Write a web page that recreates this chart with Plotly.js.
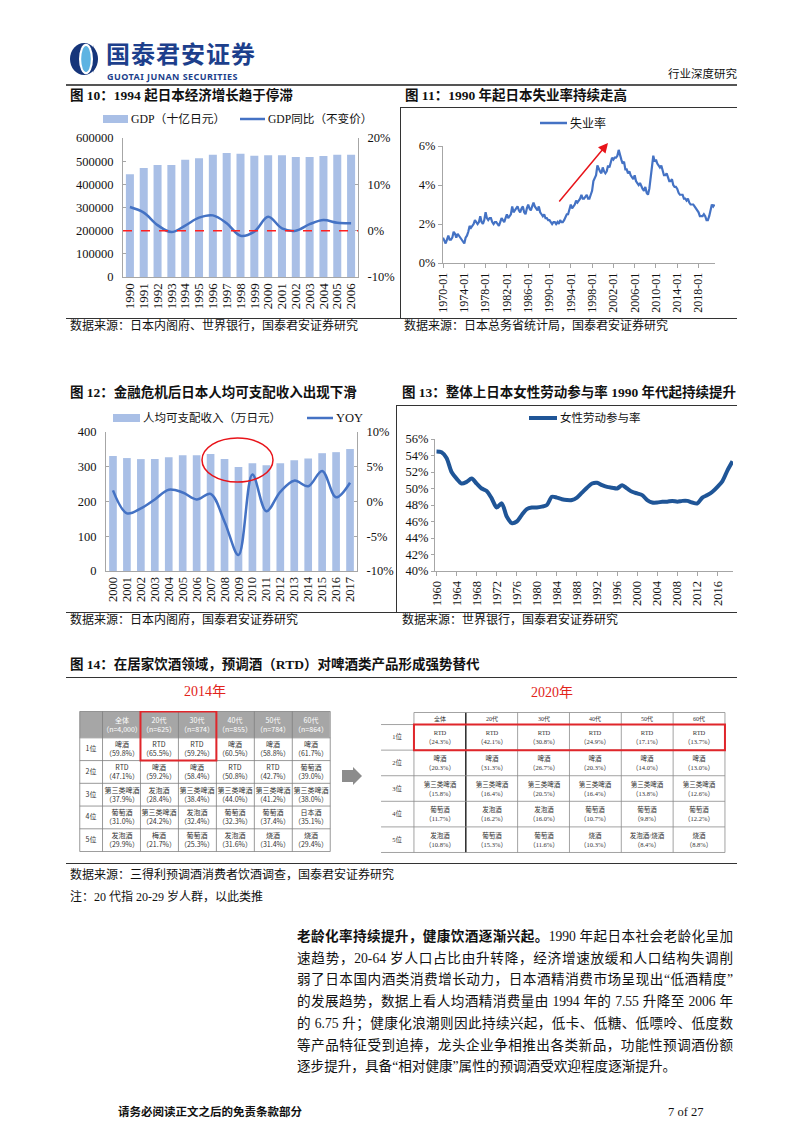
<!DOCTYPE html>
<html><head><meta charset="utf-8">
<script src="https://cdn.plot.ly/plotly-3.0.1.min.js"></script>
<style>
body{margin:0;background:#fff;}
#page{position:relative;width:802px;height:1133px;overflow:hidden;background:#fff;font-family:"Liberation Serif","Noto Sans CJK SC",serif;color:#111;}
.abs{position:absolute;white-space:nowrap;}
.hl{position:absolute;height:1px;background:#333;}
.vl{position:absolute;width:1px;background:#333;}
.ttl{position:absolute;font-weight:bold;font-size:13.5px;line-height:16px;white-space:nowrap;}
.src{position:absolute;font-size:12px;line-height:14px;white-space:nowrap;}
.body{position:absolute;left:297px;width:436px;font-size:13.6px;line-height:18px;text-align:justify;text-align-last:justify;white-space:nowrap;}
.chart{position:absolute;}
</style></head>
<body>
<div id="page">
  <!-- header -->
  <svg class="abs" style="left:69px;top:42px" width="30" height="34" viewBox="0 0 30 34">
    <ellipse cx="15" cy="17" rx="14" ry="16" fill="#16357a"/>
    <ellipse cx="17" cy="17" rx="7" ry="15.2" fill="#ffffff"/>
    <ellipse cx="17" cy="17" rx="4.8" ry="13" fill="#5db3e2"/>
    <path d="M24,3 Q31,17 24,31 Q27,17 24,3Z" fill="#16357a"/>
  </svg>
  <div class="abs" style="left:106px;top:41px;font-family:'Noto Sans CJK SC';font-weight:bold;font-size:24px;line-height:24px;letter-spacing:1px;color:#1d3f8c;">国泰君安证券</div>
  <div class="abs" style="left:107px;top:71.6px;font-family:'Noto Sans','Liberation Sans';font-weight:bold;font-size:9px;line-height:10px;color:#1d3f8c;letter-spacing:0.45px;">GUOTAI JUNAN SECURITIES</div>
  <div class="abs" style="left:668px;top:66px;font-size:11.5px;line-height:15px;font-family:'Noto Sans CJK SC';">行业深度研究</div>
  <div class="hl" style="left:66px;top:84px;width:671px;height:2px;background:#555;"></div>

  <!-- row 1 -->
  <div class="ttl" style="left:70px;top:88px;">图 10：1994 起日本经济增长趋于停滞</div>
  <div class="ttl" style="left:405px;top:88px;">图 11：1990 年起日本失业率持续走高</div>
  <div class="hl" style="left:400px;top:107px;width:337px;"></div>
  <div class="vl" style="left:400px;top:107px;height:211px;"></div>
  <div class="hl" style="left:66px;top:318px;width:671px;"></div>
  <div id="c10" class="chart" style="left:66px;top:108px;width:330px;height:210px;"></div>
  <div id="c11" class="chart" style="left:401px;top:108px;width:336px;height:210px;"></div>
  <div class="src" style="left:70px;top:319px;">数据来源：日本内阁府、世界银行，国泰君安证券研究</div>
  <div class="src" style="left:404px;top:319px;">数据来源：日本总务省统计局，国泰君安证券研究</div>

  <!-- row 2 -->
  <div class="ttl" style="left:70px;top:385px;">图 12：金融危机后日本人均可支配收入出现下滑</div>
  <div class="ttl" style="left:402px;top:385px;">图 13：整体上日本女性劳动参与率 1990 年代起持续提升</div>
  <div class="hl" style="left:396px;top:405px;width:341px;"></div>
  <div class="vl" style="left:396px;top:405px;height:207px;"></div>
  <div class="hl" style="left:66px;top:612px;width:671px;"></div>
  <div id="c12" class="chart" style="left:66px;top:406px;width:330px;height:206px;"></div>
  <div id="c13" class="chart" style="left:397px;top:406px;width:340px;height:206px;"></div>
  <div class="src" style="left:70px;top:613px;">数据来源：日本内阁府，国泰君安证券研究</div>
  <div class="src" style="left:402px;top:613px;">数据来源：世界银行，国泰君安证券研究</div>

  <!-- figure 14 -->
  <div class="ttl" style="left:70px;top:657px;">图 14：在居家饮酒领域，预调酒（RTD）对啤酒类产品形成强势替代</div>
  <div class="hl" style="left:66px;top:677px;width:671px;"></div>
  <div class="abs" style="left:184px;top:684px;font-size:14px;line-height:16px;color:#e2231a;">2014年</div>
  <div class="abs" style="left:531px;top:685px;font-size:14px;line-height:16px;color:#e2231a;">2020年</div>
  <div id="t14" class="chart" style="left:78px;top:710px;width:254px;height:143px;"></div>
  <svg class="abs" style="left:341px;top:766px" width="22" height="20" viewBox="0 0 22 20">
    <rect x="1" y="4" width="11" height="12" fill="#8c8c8c"/>
    <path d="M12,1 L21,10 L12,19 Z" fill="#8c8c8c"/>
  </svg>
  <div id="t20" class="chart" style="left:379px;top:711px;width:348px;height:143px;"></div>
  <div class="hl" style="left:66px;top:863px;width:671px;"></div>
  <div class="src" style="left:70px;top:868px;">数据来源：三得利预调酒消费者饮酒调查，国泰君安证券研究</div>
  <div class="src" style="left:70px;top:890px;">注：20 代指 20-29 岁人群，以此类推</div>

  <!-- body text -->
  <div class="body" style="top:928px;"><b>老龄化率持续提升，健康饮酒逐渐兴起。</b>1990 年起日本社会老龄化呈加</div>
  <div class="body" style="top:949.7px;">速趋势，20-64 岁人口占比由升转降，经济增速放缓和人口结构失调削</div>
  <div class="body" style="top:971.4px;">弱了日本国内酒类消费增长动力，日本酒精消费市场呈现出“低酒精度”</div>
  <div class="body" style="top:993px;">的发展趋势，数据上看人均酒精消费量由 1994 年的 7.55 升降至 2006 年</div>
  <div class="body" style="top:1014.8px;">的 6.75 升；健康化浪潮则因此持续兴起，低卡、低糖、低嘌呤、低度数</div>
  <div class="body" style="top:1036.5px;">等产品特征受到追捧，龙头企业争相推出各类新品，功能性预调酒份额</div>
  <div class="body" style="top:1058px;text-align-last:left;">逐步提升，具备“相对健康”属性的预调酒受欢迎程度逐渐提升。</div>

  <!-- footer -->
  <div class="abs" style="left:118px;top:1104px;font-weight:bold;font-size:11.5px;line-height:16px;">请务必阅读正文之后的免责条款部分</div>
  <div class="abs" style="left:668px;top:1104px;font-size:12.5px;line-height:16px;">7 of 27</div>
</div>

<script>
// ---------------- DATA ----------------
// Figure 10
const gdpYears = ['1990','1991','1992','1993','1994','1995','1996','1997','1998','1999','2000','2001','2002','2003','2004','2005','2006'];
const gdpValues = [443000,470000,483000,483000,506000,513000,528000,535000,532000,523000,526000,526000,518000,518000,522000,528000,528000];
const gdpGrowth = [5.1,3.9,1.2,-0.3,1.1,2.8,3.3,1.6,-1.1,-0.2,3.0,0.5,0.0,1.4,2.3,1.7,1.6];
const gdpRightTicks = [-10,0,10,20];
const gdpRightText = ['-10%','0%','10%','20%'];

// Figure 11 (quarterly readings, Q1..Q4 per year, 1970 to 2021 Q1)
const unempStartYear = 1970;
const unempRate = [
 1.3,1.1,1.0,1.2,  1.4,1.2,1.2,1.3,  1.6,1.5,1.3,1.5,  1.4,1.3,1.2,1.1,  1.0,1.3,1.4,1.6,
 1.9,1.8,1.9,2.0,  2.2,2.1,2.0,2.1,  2.4,2.1,2.0,2.2,  2.6,2.3,2.2,2.3,  2.3,2.1,2.0,2.1,
 2.1,2.0,1.9,2.1,  2.3,2.2,2.1,2.3,  2.5,2.3,2.4,2.5,  2.9,2.6,2.7,2.8,  2.9,2.7,2.6,2.8,
 2.9,2.6,2.5,2.8,  3.0,2.8,2.7,2.9,  3.1,2.9,2.8,2.7,  2.9,2.6,2.5,2.4,  2.5,2.3,2.3,2.2,
 2.2,2.1,2.0,2.1,  2.1,2.0,2.1,2.0,  2.2,2.1,2.1,2.2,  2.4,2.5,2.5,2.7,  3.0,2.8,2.9,3.0,
 3.2,3.1,3.2,3.3,  3.5,3.3,3.3,3.4,  3.5,3.3,3.3,3.5,  3.7,4.2,4.4,4.5,  5.0,4.8,4.7,4.6,
 4.9,4.7,4.6,4.7,  5.0,4.9,5.1,5.4,  5.3,5.4,5.4,5.5,  5.8,5.5,5.3,5.1,  5.2,4.8,4.8,4.6,
 4.7,4.5,4.4,4.3,  4.5,4.2,4.1,4.0,  4.1,3.9,3.8,3.7,  3.9,3.6,3.5,3.8,  4.4,5.2,5.5,5.2,
 5.3,5.1,5.0,4.9,  5.0,4.7,4.5,4.5,  4.6,4.4,4.2,4.2,  4.3,4.0,3.9,3.9,  3.8,3.6,3.5,3.5,
 3.5,3.3,3.3,3.2,  3.3,3.1,3.0,3.0,  3.0,2.9,2.8,2.7,  2.6,2.4,2.4,2.4,  2.5,2.4,2.2,2.2,
 2.4,2.8,3.0,2.9,  3.0
];

// Figure 12
const incomeYears = ['2000','2001','2002','2003','2004','2005','2006','2007','2008','2009','2010','2011','2012','2013','2014','2015','2016','2017'];
const incomeValues = [331,325,322,322,327,333,333,337,322,299,310,304,310,319,324,339,342,351];
const incomeYoy = [1.6,-1.7,-1.0,0.3,1.7,1.3,0.3,1.1,-2.9,-7.7,3.9,-1.4,1.4,3.0,2.2,4.4,0.6,2.7];
const incomeRightTicks = [-10,-5,0,5,10];
const incomeRightText = ['-10%','-5%','0%','5%','10%'];

// Figure 13
const lfpYears = [1960,1961,1962,1963,1964,1965,1966,1967,1968,1969,1970,1971,1972,1973,1974,1975,1976,1977,1978,1979,1980,1981,1982,1983,1984,1985,1986,1987,1988,1989,1990,1991,1992,1993,1994,1995,1996,1997,1998,1999,2000,2001,2002,2003,2004,2005,2006,2007,2008,2009,2010,2011,2012,2013,2014,2015,2016,2017,2018,2019];
const lfpRate = [54.5,54.4,53.7,52.0,51.2,50.6,50.8,51.2,50.6,50.0,49.7,48.8,47.7,48.2,46.6,45.8,46.0,46.8,47.5,47.7,47.7,47.8,48.0,49.0,48.9,48.7,48.6,48.6,48.9,49.5,50.1,50.6,50.7,50.4,50.2,50.1,50.0,50.4,50.0,49.6,49.4,49.2,48.6,48.3,48.3,48.4,48.4,48.5,48.4,48.5,48.5,48.3,48.2,48.9,49.2,49.6,50.2,50.9,52.2,53.3];

// Figure 14 tables
const rank2014 = ['1位','2位','3位','4位','5位'];
const header2014 = ['全体<br>（n=4,000）','20代<br>（n=625）','30代<br>（n=874）','40代<br>（n=855）','50代<br>（n=784）','60代<br>（n=864）'];
const drinks2014 = [
 ['啤酒','RTD','RTD','啤酒','啤酒','啤酒'],
 ['RTD','啤酒','啤酒','RTD','RTD','葡萄酒'],
 ['第三类啤酒','发泡酒','第三类啤酒','第三类啤酒','第三类啤酒','第三类啤酒'],
 ['葡萄酒','第三类啤酒','发泡酒','葡萄酒','葡萄酒','日本酒'],
 ['发泡酒','梅酒','葡萄酒','发泡酒','烧酒','烧酒']];
const share2014 = [
 [59.8,65.5,59.2,60.5,58.8,61.7],
 [47.1,59.2,58.4,50.8,42.7,39.0],
 [37.9,28.4,38.4,44.0,41.2,38.0],
 [31.0,24.2,32.4,32.3,37.4,35.1],
 [29.9,21.7,25.3,31.6,31.4,29.4]];
const rank2020 = ['1位','2位','3位','4位','5位'];
const header2020 = ['全体','20代','30代','40代','50代','60代'];
const drinks2020 = [
 ['RTD','RTD','RTD','RTD','RTD','RTD'],
 ['啤酒','啤酒','啤酒','啤酒','啤酒','啤酒'],
 ['第三类啤酒','第三类啤酒','第三类啤酒','第三类啤酒','第三类啤酒','第三类啤酒'],
 ['葡萄酒','发泡酒','发泡酒','葡萄酒','葡萄酒','葡萄酒'],
 ['发泡酒','葡萄酒','葡萄酒','烧酒','发泡酒/烧酒','烧酒']];
const share2020 = [
 [24.3,42.1,30.8,24.9,17.1,13.7],
 [20.3,31.3,26.7,20.3,14.0,13.0],
 [15.8,16.4,20.5,16.4,13.8,12.6],
 [11.7,16.2,16.0,10.7,9.8,12.2],
 [10.8,15.3,11.6,10.3,8.4,8.8]];

// ---------------- STYLE ----------------
const FONT = 'Liberation Serif, Noto Sans CJK SC, serif';
const BAR = '#a9bfe6';
const LINE = '#4472c4';
const LINE13 = '#1f5597';
const AX = '#a6a6a6';
const config = {staticPlot:true, displayModeBar:false};

function frame(left, top, w, h, m){
  return {X: px => (px-left-m.l)/(w-m.l-m.r), Y: py => 1-(py-top-m.t)/(h-m.t-m.b)};
}
function lgBar(f,x0,x1,yc,hh,color){return {type:'rect',xref:'paper',yref:'paper',x0:f.X(x0),x1:f.X(x1),y0:f.Y(yc+hh/2),y1:f.Y(yc-hh/2),fillcolor:color,line:{width:0}};}
function lgLine(f,x0,x1,yc,color,w){return {type:'line',xref:'paper',yref:'paper',x0:f.X(x0),x1:f.X(x1),y0:f.Y(yc),y1:f.Y(yc),line:{color:color,width:w}};}
function lgText(f,x,yc,text,size){return {xref:'paper',yref:'paper',x:f.X(x),y:f.Y(yc),text:text,showarrow:false,xanchor:'left',yanchor:'middle',borderpad:0,font:{family:FONT,size:size,color:'#111'}};}
function ax(extra){return Object.assign({showgrid:false,zeroline:false,showline:true,linecolor:AX,linewidth:1,tickcolor:AX,tickfont:{family:FONT,size:12.5,color:'#111'}},extra);}
const base = {paper_bgcolor:'rgba(0,0,0,0)',plot_bgcolor:'rgba(0,0,0,0)',showlegend:false};

// ---------------- FIGURE 10 ----------------
(function(){
  const m={l:57,r:38,t:30,b:41}; const f=frame(66,108,330,210,m);
  Plotly.newPlot('c10',[
    {type:'bar',x:gdpYears,y:gdpValues,marker:{color:BAR},hoverinfo:'skip'},
    {type:'scatter',mode:'lines',x:gdpYears,y:gdpGrowth,yaxis:'y2',line:{color:LINE,width:2.5,shape:'spline',smoothing:1},hoverinfo:'skip'}
  ],Object.assign({},base,{
    width:330,height:210,margin:m,bargap:0.42,
    xaxis:ax({type:'category',tickmode:'array',tickvals:gdpYears,ticktext:gdpYears,tickangle:-90,ticks:'',tickfont:{family:FONT,size:13,color:'#111'}}),
    yaxis:ax({range:[0,600000],dtick:100000,tickformat:'d',ticks:'inside',ticklen:3,ticklabelstandoff:6}),
    yaxis2:ax({overlaying:'y',side:'right',range:[-10,20],tickvals:gdpRightTicks,ticktext:gdpRightText,ticks:'inside',ticklen:3,ticklabelstandoff:6}),
    shapes:[
      {type:'line',xref:'paper',x0:0,x1:1,yref:'y',y0:200000,y1:200000,line:{color:'#ff2020',dash:'dash',width:1.5}},
      lgBar(f,103,128,119,8,BAR), lgLine(f,240,265,119,LINE,2.5)
    ],
    annotations:[lgText(f,130,119,'GDP（十亿日元）',11.8), lgText(f,267,119,'GDP同比（不变价）',11.6)]
  }),config);
})();

// ---------------- FIGURE 11 ----------------
(function(){
  const m={l:42,r:22,t:38,b:55}; const f=frame(401,108,336,210,m);
  const dates = unempRate.map((v,i)=>{const y=unempStartYear+Math.floor(i/4); const mo=1+3*(i%4); return y+'-'+(mo<10?'0':'')+mo+'-01';});
  Plotly.newPlot('c11',[
    {type:'scatter',mode:'lines',x:dates,y:unempRate,line:{color:LINE,width:2.2},hoverinfo:'skip'}
  ],Object.assign({},base,{
    width:336,height:210,margin:m,
    xaxis:ax({type:'date',range:['1970-01-01','2021-02-01'],tick0:'1970-01-01',dtick:'M48',tickformat:'%Y-%m',tickangle:-90,ticks:'outside',ticklen:4,tickfont:{family:FONT,size:12,color:'#111'}}),
    yaxis:ax({range:[0,6],dtick:2,ticksuffix:'%',ticks:'outside',ticklen:4,tickfont:{family:FONT,size:12.5,color:'#111'}}),
    shapes:[lgLine(f,540,567,123,LINE,2.5)],
    annotations:[
      lgText(f,569,123,'失业率',12),
      {xref:'paper',yref:'paper',x:f.X(608),y:f.Y(143),ax:-50,ay:60,axref:'pixel',ayref:'pixel',text:'',showarrow:true,arrowhead:2,arrowsize:1.3,arrowwidth:1.5,arrowcolor:'#e8141a'}
    ]
  }),config);
})();

// ---------------- FIGURE 12 ----------------
(function(){
  const m={l:40,r:39,t:26,b:41}; const f=frame(66,406,330,206,m);
  Plotly.newPlot('c12',[
    {type:'bar',x:incomeYears,y:incomeValues,marker:{color:BAR},hoverinfo:'skip'},
    {type:'scatter',mode:'lines',x:incomeYears,y:incomeYoy,yaxis:'y2',line:{color:LINE,width:2.5,shape:'spline',smoothing:1},hoverinfo:'skip'}
  ],Object.assign({},base,{
    width:330,height:206,margin:m,bargap:0.45,
    xaxis:ax({type:'category',tickmode:'array',tickvals:incomeYears,ticktext:incomeYears,tickangle:-90,ticks:'',tickfont:{family:FONT,size:12.5,color:'#111'}}),
    yaxis:ax({range:[0,400],dtick:100,ticks:'inside',ticklen:3,ticklabelstandoff:6}),
    yaxis2:ax({overlaying:'y',side:'right',range:[-10,10],tickvals:incomeRightTicks,ticktext:incomeRightText,ticks:'inside',ticklen:3,ticklabelstandoff:6}),
    shapes:[
      lgBar(f,113,140,418,8,BAR), lgLine(f,307,333,418,LINE,2.5),
      {type:'circle',xref:'paper',yref:'paper',x0:f.X(202),x1:f.X(273),y0:f.Y(482),y1:f.Y(438),line:{color:'#e8141a',width:1.5}}
    ],
    annotations:[lgText(f,142,418,'人均可支配收入（万日元）',11.5), lgText(f,335,418,'YOY',12.5)]
  }),config);
})();

// ---------------- FIGURE 13 ----------------
(function(){
  const m={l:38,r:4,t:33,b:41}; const f=frame(397,406,340,206,m);
  Plotly.newPlot('c13',[
    {type:'scatter',mode:'lines',x:lfpYears,y:lfpRate,line:{color:LINE13,width:4,shape:'spline',smoothing:0.8},hoverinfo:'skip'}
  ],Object.assign({},base,{
    width:340,height:206,margin:m,
    xaxis:ax({range:[1959.7,2019.1],tick0:1960,dtick:4,tickangle:-90,ticks:'outside',ticklen:4,tickfont:{family:FONT,size:12.5,color:'#111'}}),
    yaxis:ax({range:[40,56],dtick:2,ticksuffix:'%',ticks:'outside',ticklen:3,tickfont:{family:FONT,size:12.5,color:'#111'}}),
    shapes:[lgLine(f,529,557,418,LINE13,4)],
    annotations:[lgText(f,559,418,'女性劳动参与率',11.5)]
  }),config);
})();

// ---------------- FIGURE 14 TABLES ----------------
function drawTable(id, o){
  const nc = o.xEdges.length-1, nr = o.yEdges.length-1;
  const lastX = o.xEdges[nc], lastY = o.yEdges[nr];
  const headText = [['', ...o.header]];
  const headZ = [o.header.map(()=>1)]; headZ[0].unshift(o.cornerFill);
  const bodyText = o.names.map((row,r)=>[o.ranks[r], ...row.map((n,c)=>n+'<br>（'+o.shares[r][c].toFixed(1)+'%）')]);
  const bodyZ = o.names.map(row=>[0, ...row.map(()=>0)]);
  const traces = [
    {type:'heatmap',x:o.xEdges,y:o.yEdges.slice(0,2),z:headZ,text:headText,texttemplate:'%{text}',textfont:{family:o.font,size:o.headSize,color:o.headColor},
     colorscale:[[0,'#ffffff'],[1,o.headFill]],zmin:0,zmax:1,showscale:false,hoverinfo:'skip'},
    {type:'heatmap',x:o.xEdges,y:o.yEdges.slice(1),z:bodyZ,text:bodyText,texttemplate:'%{text}',textfont:{family:o.font,size:o.bodySize,color:'#333'},
     colorscale:[[0,'#ffffff'],[1,'#ffffff']],zmin:0,zmax:1,showscale:false,hoverinfo:'skip'}
  ];
  const shapes = [];
  o.xEdges.forEach((x,i)=>{
    if(o.skipLeft && i===0) return;
    const thick = (o.thickCol!==undefined && i===o.thickCol);
    shapes.push({type:'line',xref:'x',yref:'y',x0:x,x1:x,y0:0,y1:lastY,line:{color:thick?'#333':o.lineColor,width:thick?1.6:0.8}});
  });
  o.yEdges.forEach((y,j)=>{
    shapes.push({type:'line',xref:'x',yref:'y',x0:(o.skipLeft&&j===0)?o.xEdges[1]:0,x1:lastX,y0:y,y1:y,line:{color:o.lineColor,width:0.8}});
  });
  const rb = o.redBox;
  shapes.push({type:'rect',xref:'x',yref:'y',x0:o.xEdges[rb[0]],x1:o.xEdges[rb[1]],y0:o.yEdges[rb[2]],y1:o.yEdges[rb[3]],line:{color:'#e0262b',width:2}});
  Plotly.newPlot(id,traces,{
    width:o.w,height:o.h,margin:{l:1,r:1,t:1,b:1},paper_bgcolor:'rgba(0,0,0,0)',plot_bgcolor:'#ffffff',showlegend:false,
    xaxis:{range:[-0.02,lastX+0.02],visible:false,fixedrange:true},
    yaxis:{range:[lastY+0.02,-0.02],visible:false,fixedrange:true},
    shapes:shapes
  },config);
}
drawTable('t14',{w:254,h:143,xEdges:[0,0.6,1.6,2.6,3.6,4.6,5.6,6.6],yEdges:[0,1.16,2.16,3.16,4.16,5.16,6.16],
  header:header2014,ranks:rank2014,names:drinks2014,shares:share2014,cornerFill:1,headFill:'#a6a6a6',headColor:'#ffffff',
  headSize:7,bodySize:7,font:'Noto Sans CJK SC, Liberation Sans',lineColor:'#7f7f7f',redBox:[2,4,0,2]});
drawTable('t20',{w:348,h:143,xEdges:[0,0.635,1.635,2.635,3.635,4.635,5.635,6.635],yEdges:[0,0.47,1.47,2.47,3.47,4.47,5.47],
  header:header2020,ranks:rank2020,names:drinks2020,shares:share2020,cornerFill:0,headFill:'#ffffff',headColor:'#333333',
  headSize:6,bodySize:6.5,font:'Liberation Serif, Noto Sans CJK SC',lineColor:'#8c8c8c',redBox:[1,7,1,2],skipLeft:true,thickCol:2});
</script>
</body></html>
